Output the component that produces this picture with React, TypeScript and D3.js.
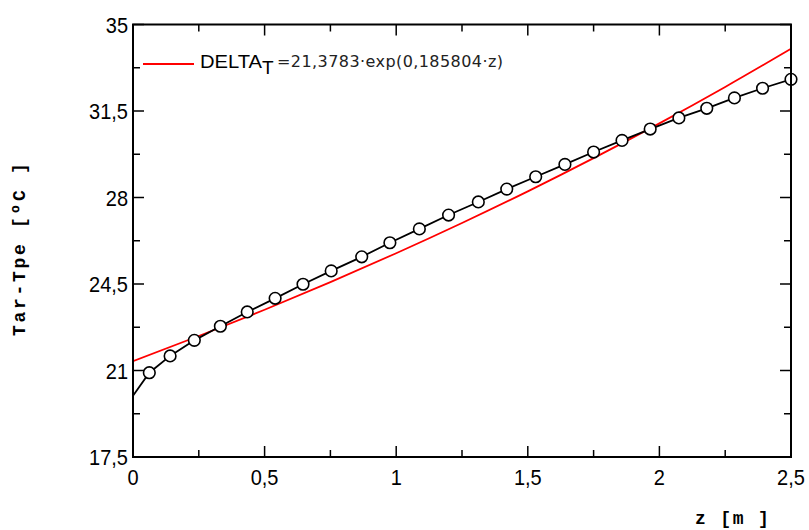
import React from "react";
import * as d3 from "d3";

// Measured series (black line with circle markers); first point has no marker
const zValues = [
  0, 0.062, 0.141, 0.233, 0.332, 0.434, 0.54, 0.646, 0.753, 0.869, 0.976, 1.088, 1.199,
  1.312, 1.42, 1.53, 1.641, 1.75, 1.858, 1.965, 2.074, 2.18, 2.285, 2.392, 2.5,
];
const deltaT = [
  19.98, 20.91, 21.59, 22.22, 22.79, 23.37, 23.92, 24.49, 25.03, 25.6, 26.17, 26.73, 27.29,
  27.82, 28.34, 28.84, 29.34, 29.84, 30.31, 30.77, 31.22, 31.61, 32.03, 32.42, 32.78,
];

// Fitted curve (red)
const fitZ = [0, 0.25, 0.5, 0.75, 1.0, 1.25, 1.5, 1.75, 2.0, 2.25, 2.5];
const fitT = [21.378, 22.395, 23.459, 24.575, 25.744, 26.968, 28.249, 29.593, 31.0, 32.474, 34.017];

const xTicks = [0, 0.5, 1, 1.5, 2, 2.5];
const xTickLabels = ["0", "0,5", "1", "1,5", "2", "2,5"];
const xMinor = [0.25, 0.75, 1.25, 1.75, 2.25];
const yTicks = [17.5, 21, 24.5, 28, 31.5, 35];
const yTickLabels = ["17,5", "21", "24,5", "28", "31,5", "35"];
const yMinor = [19.25, 22.75, 26.25, 29.75, 33.25];

const legendName = "DELTA";
const legendSub = "T";
const legendFormula = "=21,3783·exp(0,185804·z)";
const xTitle = "z  [m ]";
const yTitle = "Tar-Tpe  [ºC ]";

const W = 809;
const H = 530;
const L = 133;
const R = 791;
const T = 24.5;
const B = 457;

export default function App() {
  const x = d3.scaleLinear().domain([0, 2.5]).range([L, R]);
  const y = d3.scaleLinear().domain([17.5, 35]).range([B, T]);

  const dataLine = d3
    .line<number>()
    .x((_, i) => x(zValues[i]))
    .y((d) => y(d));
  const fitLine = d3
    .line<number>()
    .x((_, i) => x(fitZ[i]))
    .y((d) => y(d))
    .curve(d3.curveMonotoneX);

  const major = 11;
  const minor = 7;
  const tickFont = "'Liberation Sans', Arial, sans-serif";
  const monoFont = "'Courier New', 'Liberation Mono', 'DejaVu Sans Mono', monospace";

  return (
    <svg
      width={W}
      height={H}
      style={{ position: "fixed", left: 0, top: 0, background: "#fff" }}
    >
      <defs>
        <clipPath id="plot">
          <rect x={L} y={T} width={R - L} height={B - T} />
        </clipPath>
      </defs>
      {/* curves */}
      <g clipPath="url(#plot)">
        <path d={fitLine(fitT) || ""} fill="none" stroke="#ff0000" strokeWidth={1.8} />
        <path d={dataLine(deltaT) || ""} fill="none" stroke="#000" strokeWidth={1.8} />
      </g>
      {deltaT.map((v, i) =>
        i === 0 ? null : (
          <circle
            key={i}
            cx={x(zValues[i])}
            cy={y(v)}
            r={5.8}
            fill="#fff"
            stroke="#000"
            strokeWidth={1.6}
          />
        )
      )}

      {/* frame */}
      <rect x={L} y={T} width={R - L} height={B - T} fill="none" stroke="#000" strokeWidth={2} />

      {/* x ticks bottom & top */}
      {xTicks.map((t) => (
        <g key={"xt" + t}>
          <line x1={x(t)} x2={x(t)} y1={B} y2={B - major} stroke="#000" strokeWidth={1.5} />
          <line x1={x(t)} x2={x(t)} y1={T} y2={T + major} stroke="#000" strokeWidth={1.5} />
        </g>
      ))}
      {xMinor.map((t) => (
        <g key={"xm" + t}>
          <line x1={x(t)} x2={x(t)} y1={B} y2={B - minor} stroke="#000" strokeWidth={1.5} />
          <line x1={x(t)} x2={x(t)} y1={T} y2={T + minor} stroke="#000" strokeWidth={1.5} />
        </g>
      ))}
      {/* y ticks left & right */}
      {yTicks.map((t) => (
        <g key={"yt" + t}>
          <line x1={L} x2={L + major} y1={y(t)} y2={y(t)} stroke="#000" strokeWidth={1.5} />
          <line x1={R} x2={R - major} y1={y(t)} y2={y(t)} stroke="#000" strokeWidth={1.5} />
        </g>
      ))}
      {yMinor.map((t) => (
        <g key={"ym" + t}>
          <line x1={L} x2={L + minor} y1={y(t)} y2={y(t)} stroke="#000" strokeWidth={1.5} />
          <line x1={R} x2={R - minor} y1={y(t)} y2={y(t)} stroke="#000" strokeWidth={1.5} />
        </g>
      ))}

      {/* tick labels */}
      {xTicks.map((t, i) => (
        <text
          key={"xl" + t}
          transform={`translate(${x(t)},485) scale(1,1.12)`}
          textAnchor="middle"
          fontFamily={tickFont}
          fontSize={20}
          fill="#000"
        >
          {xTickLabels[i]}
        </text>
      ))}
      {yTicks.map((t, i) => (
        <text
          key={"yl" + t}
          transform={`translate(128,${y(t) + 8}) scale(1,1.12)`}
          textAnchor="end"
          fontFamily={tickFont}
          fontSize={20}
          fill="#000"
        >
          {yTickLabels[i]}
        </text>
      ))}

      {/* legend */}
      <line x1={143} x2={194} y1={64} y2={64} stroke="#ff0000" strokeWidth={1.8} />
      <text
        x={200}
        y={68}
        fontFamily={tickFont}
        fontSize={19}
        fill="#000"
        textLength={62}
        lengthAdjust="spacingAndGlyphs"
      >
        {legendName}
      </text>
      <text x={262} y={74} fontFamily={tickFont} fontSize={19} fill="#000">
        {legendSub}
      </text>
      <text
        x={277}
        y={67}
        fontFamily="'DejaVu Sans', sans-serif"
        fontSize={16}
        fill="#222"
        textLength={226}
        lengthAdjust="spacing"
      >
        {legendFormula}
      </text>

      {/* axis titles */}
      <text
        x={695}
        y={524}
        fontFamily={monoFont}
        fontWeight="bold"
        fontSize={18}
        letterSpacing={1.8}
        fill="#000"
      >
        {xTitle}
      </text>
      <text
        transform="translate(25,336) rotate(-90)"
        fontFamily={monoFont}
        fontWeight="bold"
        fontSize={18}
        letterSpacing={2.7}
        fill="#000"
      >
        {yTitle}
      </text>
    </svg>
  );
}
